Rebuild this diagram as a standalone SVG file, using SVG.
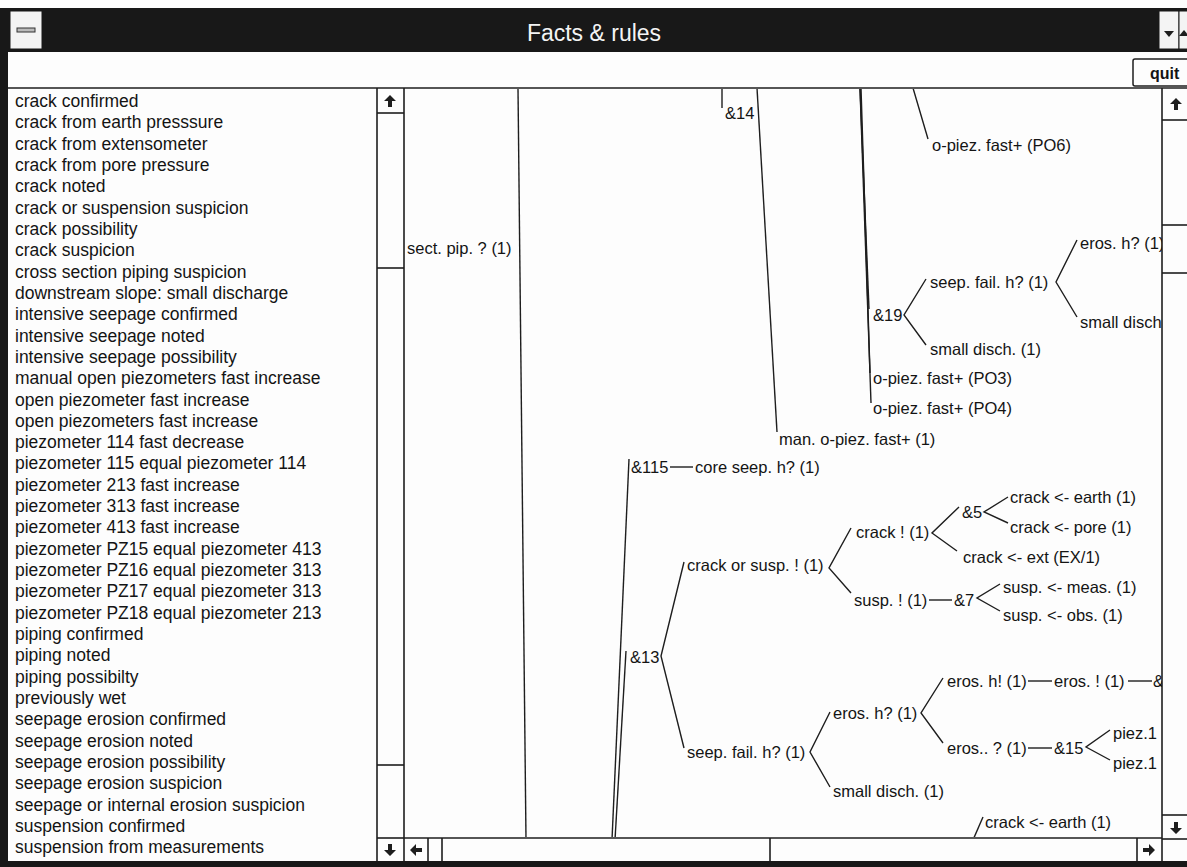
<svg xmlns="http://www.w3.org/2000/svg" width="1187" height="867" viewBox="0 0 1187 867">
<style>
.l{font-family:"Liberation Sans",Arial,sans-serif;font-size:17.5px;fill:#141414}
.t{font-family:"Liberation Sans",Arial,sans-serif;font-size:16.5px;fill:#141414}
.ln{stroke:#1e1e1e;stroke-width:1.4;fill:none}
.fr{stroke:#1e1e1e;stroke-width:1.6;fill:none}
.ic{fill:#1e1e1e}
</style>
<defs>
<path id="up" d="M0,-6 L6,0 L2,0 L2,6 L-2,6 L-2,0 L-6,0 Z"/>
<clipPath id="tc"><rect x="405" y="89" width="757" height="748"/></clipPath>
</defs>
<rect width="1187" height="867" fill="#fdfdfd"/>

<g id="window">
<rect x="0" y="8" width="1187" height="44" fill="#181818"/>
<rect x="0" y="8" width="8" height="859" fill="#181818"/>
<rect x="0" y="861" width="1187" height="6" fill="#181818"/>
<rect x="10" y="11" width="32" height="38" fill="#f4f4f4" stroke="#181818"/>
<rect x="17" y="28" width="18" height="4" fill="#bbb" stroke="#333" stroke-width="1"/>
<text x="594" y="41" text-anchor="middle" style="font-family:'Liberation Sans',Arial,sans-serif;font-size:23px;fill:#f4f4f4">Facts &amp; rules</text>
<rect x="1159" y="11" width="20" height="38" fill="#f4f4f4" stroke="#181818"/>
<polygon class="ic" points="1164,31 1174,31 1169,37"/>
<rect x="1179" y="11" width="20" height="38" fill="#f4f4f4" stroke="#181818"/>
<polygon class="ic" points="1179,36 1189,36 1184,30"/>
<g id="quit">
<rect x="1133" y="59" width="60" height="27" rx="2" fill="#fdfdfd" stroke="#1e1e1e" stroke-width="1.5"/>
<text x="1150" y="79" style="font-family:'Liberation Sans',Arial,sans-serif;font-size:16px;font-weight:bold;fill:#141414">quit</text>
</g>
<line class="fr" x1="8" y1="88" x2="1187" y2="88"/>
<line class="fr" x1="377" y1="88" x2="377" y2="861"/>
<line class="fr" x1="404" y1="88" x2="404" y2="861"/>
<line class="fr" x1="377" y1="113" x2="404" y2="113"/>
<line class="fr" x1="377" y1="268" x2="404" y2="268"/>
<line class="fr" x1="377" y1="765" x2="404" y2="765"/>
<line class="fr" x1="377" y1="838" x2="404" y2="838"/>
<use href="#up" class="ic" x="390" y="101"/>
<use href="#up" class="ic" transform="translate(390,850) rotate(180)"/>
<line class="fr" x1="1162" y1="88" x2="1162" y2="861"/>
<line class="fr" x1="1162" y1="120" x2="1187" y2="120"/>
<line class="fr" x1="1162" y1="225" x2="1187" y2="225"/>
<line class="fr" x1="1162" y1="273" x2="1187" y2="273"/>
<line class="fr" x1="1162" y1="815" x2="1187" y2="815"/>
<line class="fr" x1="1162" y1="839" x2="1187" y2="839"/>
<use href="#up" class="ic" x="1176" y="104"/>
<use href="#up" class="ic" transform="translate(1176,828) rotate(180)"/>
<line class="fr" x1="404" y1="838" x2="1162" y2="838"/>
<line class="fr" x1="428" y1="838" x2="428" y2="861"/>
<line class="fr" x1="442" y1="838" x2="442" y2="861"/>
<line class="fr" x1="770" y1="838" x2="770" y2="861"/>
<line class="fr" x1="1137" y1="838" x2="1137" y2="861"/>
<use href="#up" class="ic" transform="translate(416,850) rotate(-90)"/>
<use href="#up" class="ic" transform="translate(1149,850) rotate(90)"/>
</g>

<g id="fact-list">
<text class="l" x="15" y="107">crack confirmed</text>
<text class="l" x="15" y="128.3">crack from earth presssure</text>
<text class="l" x="15" y="149.6">crack from extensometer</text>
<text class="l" x="15" y="171">crack from pore pressure</text>
<text class="l" x="15" y="192.3">crack noted</text>
<text class="l" x="15" y="213.6">crack or suspension suspicion</text>
<text class="l" x="15" y="234.9">crack possibility</text>
<text class="l" x="15" y="256.2">crack suspicion</text>
<text class="l" x="15" y="277.6">cross section piping suspicion</text>
<text class="l" x="15" y="298.9">downstream slope: small discharge</text>
<text class="l" x="15" y="320.2">intensive seepage confirmed</text>
<text class="l" x="15" y="341.5">intensive seepage noted</text>
<text class="l" x="15" y="362.8">intensive seepage possibility</text>
<text class="l" x="15" y="384.2">manual open piezometers fast increase</text>
<text class="l" x="15" y="405.5">open piezometer fast increase</text>
<text class="l" x="15" y="426.8">open piezometers fast increase</text>
<text class="l" x="15" y="448.1">piezometer 114 fast decrease</text>
<text class="l" x="15" y="469.4">piezometer 115 equal piezometer 114</text>
<text class="l" x="15" y="490.8">piezometer 213 fast increase</text>
<text class="l" x="15" y="512.1">piezometer 313 fast increase</text>
<text class="l" x="15" y="533.4">piezometer 413 fast increase</text>
<text class="l" x="15" y="554.7">piezometer PZ15 equal piezometer 413</text>
<text class="l" x="15" y="576">piezometer PZ16 equal piezometer 313</text>
<text class="l" x="15" y="597.4">piezometer PZ17 equal piezometer 313</text>
<text class="l" x="15" y="618.7">piezometer PZ18 equal piezometer 213</text>
<text class="l" x="15" y="640">piping confirmed</text>
<text class="l" x="15" y="661.3">piping noted</text>
<text class="l" x="15" y="682.6">piping possibilty</text>
<text class="l" x="15" y="704">previously wet</text>
<text class="l" x="15" y="725.3">seepage erosion confirmed</text>
<text class="l" x="15" y="746.6">seepage erosion noted</text>
<text class="l" x="15" y="767.9">seepage erosion possibility</text>
<text class="l" x="15" y="789.2">seepage erosion suspicion</text>
<text class="l" x="15" y="810.6">seepage or internal erosion suspicion</text>
<text class="l" x="15" y="831.9">suspension confirmed</text>
<text class="l" x="15" y="853.2">suspension from measurements</text>
</g>

<g clip-path="url(#tc)">
<g id="connectors" class="ln">
<line x1="518" y1="88" x2="526" y2="840"/>
<line x1="722" y1="88" x2="722" y2="108"/>
<line x1="757" y1="88" x2="777" y2="432"/>
<line x1="913" y1="88" x2="928" y2="139"/>
<line x1="860" y1="88" x2="869" y2="309"/>
<line x1="861" y1="88" x2="870" y2="373"/>
<line x1="860" y1="88" x2="871" y2="403"/>
<polyline points="926,279 904,315 926,345"/>
<polyline points="1077,240 1056,282 1077,317"/>
<line x1="612" y1="840" x2="629" y2="459"/>
<line x1="615" y1="840" x2="626" y2="651"/>
<line x1="670" y1="467" x2="693" y2="467"/>
<polyline points="684,562 661,656 684,748"/>
<polyline points="851,528 829,568 851,593"/>
<polyline points="959,507 932,533 957,551"/>
<polyline points="1008,497 984,512 1008,523"/>
<line x1="929" y1="600" x2="952" y2="600"/>
<polyline points="1000,584 977,598 1000,611"/>
<polyline points="830,712 810,752 830,787"/>
<polyline points="943,678 921,713 943,743"/>
<line x1="1028" y1="681" x2="1052" y2="681"/>
<line x1="1128" y1="681" x2="1152" y2="681"/>
<line x1="1028" y1="748" x2="1052" y2="748"/>
<polyline points="1110,730 1086,747 1110,760"/>
<line x1="973" y1="840" x2="983" y2="817"/>
</g>
<g id="n-sect-pip"><text class="t" x="407" y="254">sect. pip. ? (1)</text></g>
<g id="n-and14"><text class="t" x="725" y="119">&amp;14</text></g>
<g id="n-po6"><text class="t" x="932" y="151">o-piez. fast+ (PO6)</text></g>
<g id="n-and19"><text class="t" x="873" y="321">&amp;19</text></g>
<g id="n-seep-fail-1"><text class="t" x="930" y="288">seep. fail. h? (1)</text></g>
<g id="n-small-disch-1"><text class="t" x="930" y="355">small disch. (1)</text></g>
<g id="n-eros-h-1"><text class="t" x="1080" y="249">eros. h? (1)</text></g>
<g id="n-small-disch-2"><text class="t" x="1080" y="328">small disch</text></g>
<g id="n-po3"><text class="t" x="873" y="384">o-piez. fast+ (PO3)</text></g>
<g id="n-po4"><text class="t" x="873" y="414">o-piez. fast+ (PO4)</text></g>
<g id="n-man"><text class="t" x="779" y="445">man. o-piez. fast+ (1)</text></g>
<g id="n-and115"><text class="t" x="631" y="473">&amp;115</text></g>
<g id="n-core-seep"><text class="t" x="695" y="473">core seep. h? (1)</text></g>
<g id="n-crack-or-susp"><text class="t" x="687" y="571">crack or susp. ! (1)</text></g>
<g id="n-and13"><text class="t" x="630" y="663">&amp;13</text></g>
<g id="n-seep-fail-2"><text class="t" x="687" y="758">seep. fail. h? (1)</text></g>
<g id="n-crack"><text class="t" x="856" y="538">crack ! (1)</text></g>
<g id="n-susp"><text class="t" x="854" y="606">susp. ! (1)</text></g>
<g id="n-and5"><text class="t" x="962" y="518">&amp;5</text></g>
<g id="n-crack-ext"><text class="t" x="963" y="563">crack &lt;- ext (EX/1)</text></g>
<g id="n-crack-earth-1"><text class="t" x="1010" y="503">crack &lt;- earth (1)</text></g>
<g id="n-crack-pore"><text class="t" x="1010" y="533">crack &lt;- pore (1)</text></g>
<g id="n-and7"><text class="t" x="954" y="606">&amp;7</text></g>
<g id="n-susp-meas"><text class="t" x="1003" y="593">susp. &lt;- meas. (1)</text></g>
<g id="n-susp-obs"><text class="t" x="1003" y="621">susp. &lt;- obs. (1)</text></g>
<g id="n-eros-h-2"><text class="t" x="833" y="719">eros. h? (1)</text></g>
<g id="n-small-disch-3"><text class="t" x="833" y="797">small disch. (1)</text></g>
<g id="n-eros-h-excl"><text class="t" x="947" y="687">eros. h! (1)</text></g>
<g id="n-eros-excl"><text class="t" x="1054" y="687">eros. ! (1)</text></g>
<g id="n-and-cut"><text class="t" x="1153" y="687">&amp;</text></g>
<g id="n-eros-q"><text class="t" x="947" y="754">eros.. ? (1)</text></g>
<g id="n-and15"><text class="t" x="1054" y="754">&amp;15</text></g>
<g id="n-piez-a"><text class="t" x="1113" y="739">piez.1</text></g>
<g id="n-piez-b"><text class="t" x="1113" y="769">piez.1</text></g>
<g id="n-crack-earth-2"><text class="t" x="985" y="828">crack &lt;- earth (1)</text></g>
</g>
</svg>
